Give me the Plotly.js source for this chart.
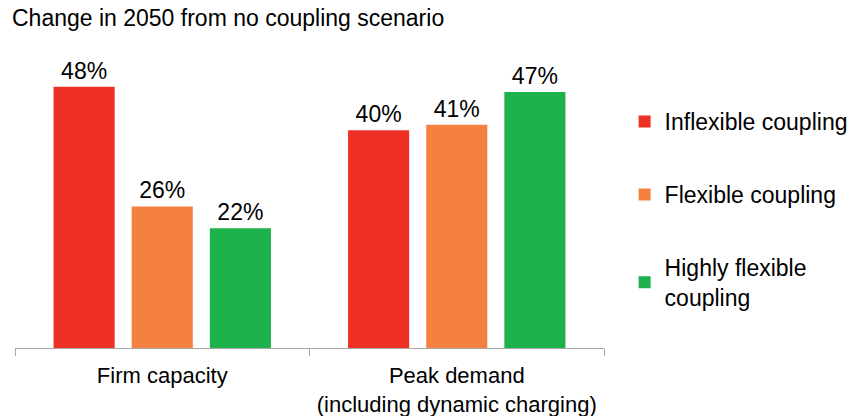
<!DOCTYPE html>
<html>
<head>
<meta charset="utf-8">
<script src="https://cdn.plot.ly/plotly-3.0.1.min.js"></script>
<style>html,body{margin:0;padding:0;background:#fff;}#chart{width:859px;height:416px;}</style>
</head>
<body>
<div id="chart"></div>
<script>
const categories = ["Firm capacity", "Peak demand<br>(including dynamic charging)"];
const seriesNames = ["Inflexible coupling", "Flexible coupling", "Highly flexible<br>coupling"];
const inflexible = [48, 40];
const flexible = [26, 41];
const highlyFlexible = [22, 47];
const colors = ["#EE3124", "#F58140", "#1DB24C"];

const FONT = "Liberation Sans, Arial, sans-serif";
const values = [inflexible, flexible, highlyFlexible];
const traces = values.map((v, i) => ({
  type: "bar",
  name: seriesNames[i],
  legendgroup: "g" + i,
  x: categories,
  y: v,
  marker: {color: colors[i], line: {width: 0}},
  text: v.map(d => d + "%"),
  textposition: "outside",
  textfont: {family: FONT, size: 23, color: "#000"},
  cliponaxis: false,
  hoverinfo: "skip"
}));

const layout = {
  width: 859, height: 416,
  margin: {l: 15, r: 255, t: 60, b: 68, autoexpand: false},
  paper_bgcolor: "#fff", plot_bgcolor: "#fff",
  font: {family: FONT, size: 23, color: "#000"},
  title: {text: "Change in 2050 from no coupling scenario", x: 12/859, xref: "container", xanchor: "left", y: 1 - 10/416, yref: "container", yanchor: "top", font: {family: FONT, size: 23, color: "#000"}},
  barmode: "group",
  bargap: 0.204,
  bargroupgap: 0.218,
  showlegend: true,
  legend: {x: 1.035, xanchor: "left", y: 0.861, yanchor: "top", tracegroupgap: 40, font: {family: FONT, size: 23, color: "#000"}, itemwidth: 30},
  xaxis: {showline: true, linecolor: "#A6A6A6", linewidth: 1, ticks: "outside", tickson: "boundaries", ticklen: 7, tickcolor: "#A6A6A6", ticklabelstandoff: 8, tickfont: {family: FONT, size: 22, color: "#000"}, showgrid: false, zeroline: false, fixedrange: true},
  yaxis: {range: [0, 52.9], visible: false, showgrid: false, zeroline: false, fixedrange: true}
};

Plotly.newPlot("chart", traces, layout, {displayModeBar: false, staticPlot: true});
</script>
</body>
</html>
